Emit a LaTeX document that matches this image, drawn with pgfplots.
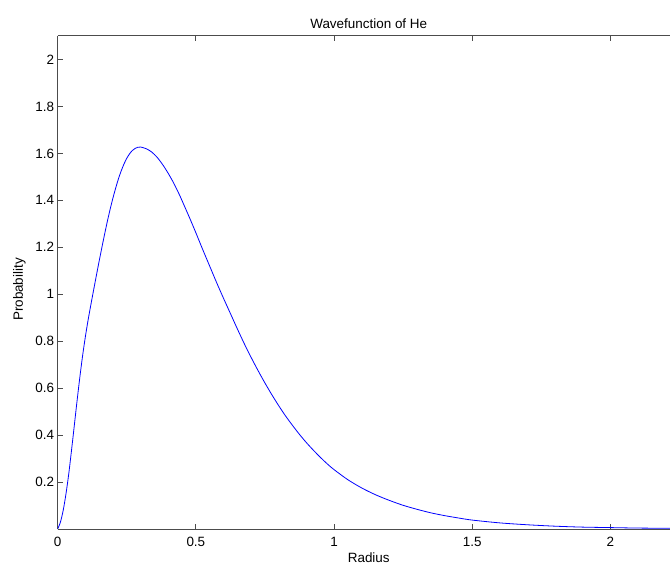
\documentclass[border=0pt]{standalone}
\usepackage{fontspec}
\setmainfont{Liberation Sans}
\usepackage{pgfplots}
\pgfplotsset{compat=1.18}

\begin{document}
\begin{tikzpicture}
\begin{axis}[
  name=ax,
  scale only axis, width=612.3bp, height=493bp,
  xmin=0, xmax=2.216, ymin=0, ymax=2.1,
  axis x line*=box, axis y line*=left,
  axis line style={black!70, line width=1bp},
  tick style={black!70, line width=0.8bp},
  tick align=inside, major tick length=5bp,
  xtick={0,0.5,1,1.5,2},
  ytick={0.2,0.4,0.6,0.8,1,1.2,1.4,1.6,1.8,2},
  font=\fontsize{13.5}{16}\selectfont,
  /pgf/number format/assume math mode=true,
  xticklabel style={yshift=-5bp},
  title={Wavefunction of He},
  title style={at={(0.508,1)}, yshift=-2bp},
  xlabel={Radius},
  xlabel style={at={(ticklabel cs:0.508)}, yshift=1bp},
  ylabel={Probability},
  ylabel style={xshift=-7bp, yshift=3bp},
]
\addplot[blue, line width=0.8bp, smooth] coordinates {
(0.000,0.000) (0.010,0.030) (0.020,0.080) (0.030,0.150) (0.040,0.235)
(0.050,0.335) (0.060,0.440) (0.070,0.545) (0.080,0.645) (0.090,0.737)
(0.100,0.818) (0.110,0.890) (0.120,0.955) (0.130,1.018) (0.140,1.080)
(0.150,1.141) (0.160,1.200) (0.170,1.257) (0.180,1.312) (0.190,1.363)
(0.200,1.410) (0.210,1.453) (0.220,1.492) (0.230,1.526) (0.240,1.555)
(0.250,1.579) (0.260,1.598) (0.270,1.612) (0.280,1.621) (0.290,1.626)
(0.300,1.627) (0.320,1.620) (0.340,1.606) (0.360,1.583) (0.380,1.552)
(0.400,1.515) (0.420,1.473) (0.440,1.425) (0.460,1.372) (0.480,1.318)
(0.500,1.262) (0.525,1.190) (0.550,1.120) (0.575,1.050) (0.600,0.983)
(0.625,0.918) (0.650,0.853) (0.675,0.790) (0.700,0.731) (0.725,0.675)
(0.750,0.622) (0.775,0.572) (0.800,0.525) (0.825,0.481) (0.850,0.441)
(0.875,0.403) (0.900,0.368) (0.925,0.336) (0.950,0.306) (0.975,0.278)
(1.000,0.253) (1.050,0.210) (1.100,0.175) (1.150,0.146) (1.200,0.122)
(1.250,0.101) (1.300,0.084) (1.350,0.069) (1.400,0.057) (1.450,0.047)
(1.500,0.038) (1.600,0.026) (1.700,0.018) (1.800,0.012) (1.900,0.008)
(2.000,0.006) (2.100,0.004) (2.216,0.003)
};
\end{axis}
\pgfresetboundingbox
\path[use as bounding box] ([xshift=-57.7bp,yshift=-38bp]ax.south west)
  rectangle ([yshift=36bp]ax.north east);
\end{tikzpicture}
\end{document}
